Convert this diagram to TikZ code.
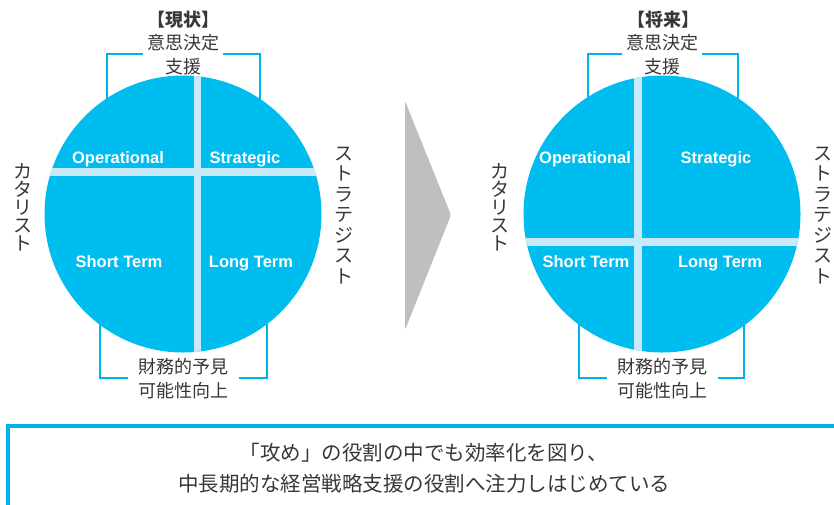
\documentclass[tikz,border=0pt]{standalone}
\usepackage{fontspec}
\setmainfont{Liberation Sans}
\newfontfamily\jp{Noto Sans CJK JP}
\definecolor{circc}{RGB}{0,189,240}
\definecolor{barc}{RGB}{200,233,248}
\definecolor{linec}{RGB}{0,178,236}
\definecolor{txtg}{RGB}{55,55,55}
\definecolor{arrg}{RGB}{190,191,193}
\begin{document}
\begin{tikzpicture}[x=1pt,y=-1pt,
  jptext/.style={font=\jp\fontsize{18}{24}\selectfont, text=txtg, align=center, inner sep=0},
  jphead/.style={font=\jp\bfseries\fontsize{18}{18}\selectfont, text=txtg, inner sep=0},
  vleft/.style={font=\jp\fontsize{19}{18}\selectfont, text=txtg, align=center, inner sep=0},
  vright/.style={font=\jp\fontsize{19}{20.5}\selectfont, text=txtg, align=center, inner sep=0},
  quad/.style={font=\bfseries\fontsize{16.5}{16.5}\selectfont, text=white, inner sep=0, text height=11.8, text depth=0},
  bracket/.style={draw=linec, line width=2.2},
  disc/.style={circle, fill=circc, minimum size=277, inner sep=0},
  barfill/.style={fill=barc}]
\useasboundingbox (0,0) rectangle (834,504);

% ---------- left: current ----------
\coordinate (L1) at (107,105);
\coordinate (L2) at (260,105);
\coordinate (L3) at (100,318);
\coordinate (L4) at (267,318);
\draw[bracket] (L1) -- (107,54) -- (143,54);
\draw[bracket] (223,54) -- (260,54) -- (L2);
\draw[bracket] (L3) -- (100,378) -- (128,378);
\draw[bracket] (239,378) -- (267,378) -- (L4);
\node[disc] (c1) at (183,214) {};
\begin{scope}
  \clip (c1.center) circle (138.5);
  \fill[barfill] (194,70) rectangle (201,360);
  \fill[barfill] (40,168) rectangle (330,176);
\end{scope}
\node[quad] (op1) at (118,158) {Operational};
\node[quad] (st1) at (245,158) {Strategic};
\node[quad] (sh1) at (119,262) {Short Term};
\node[quad] (lo1) at (251,262) {Long Term};
\node[jphead] (h1) at (183,20) {【現状】};
\node[jptext] (t1) at (183,55) {意思決定\\支援};
\node[jptext] (b1) at (183,378.5) {財務的予見\\可能性向上};
\node[vleft] (v1) at (23,207.5) {カ\\タ\\リ\\ス\\ト};
\node[vright] (w1) at (344,215.5) {ス\\ト\\ラ\\テ\\ジ\\ス\\ト};

% ---------- arrow ----------
\coordinate (a1) at (405,101);
\coordinate (a2) at (451,215);
\coordinate (a3) at (405,330);
\fill[arrg, rounded corners=2] (a1) -- (a2) -- (a3) -- cycle;

% ---------- right: future ----------
\coordinate (R1) at (588,105);
\coordinate (R2) at (738,105);
\coordinate (R3) at (579,318);
\coordinate (R4) at (744,318);
\draw[bracket] (R1) -- (588,54) -- (622,54);
\draw[bracket] (702,54) -- (738,54) -- (R2);
\draw[bracket] (R3) -- (579,378) -- (607,378);
\draw[bracket] (718,378) -- (744,378) -- (R4);
\node[disc] (c2) at (662,214) {};
\begin{scope}
  \clip (c2.center) circle (138.5);
  \fill[barfill] (634,70) rectangle (642,360);
  \fill[barfill] (500,238) rectangle (820,246);
\end{scope}
\node[quad] (op2) at (585,158) {Operational};
\node[quad] (st2) at (716,158) {Strategic};
\node[quad] (sh2) at (586,262) {Short Term};
\node[quad] (lo2) at (720,262) {Long Term};
\node[jphead] (h2) at (663,20) {【将来】};
\node[jptext] (t2) at (662,55) {意思決定\\支援};
\node[jptext] (b2) at (662,378.5) {財務的予見\\可能性向上};
\node[vleft] (v2) at (500,207.5) {カ\\タ\\リ\\ス\\ト};
\node[vright] (w2) at (823,215.5) {ス\\ト\\ラ\\テ\\ジ\\ス\\ト};

% ---------- bottom message box ----------
\coordinate (m1) at (840,426);
\coordinate (m2) at (8,426);
\coordinate (m3) at (8,510);
\draw[draw=linec, line width=4] (m1) -- (m2) -- (m3);
\node[font=\jp\fontsize{20.5}{31}\selectfont, text=txtg, align=center, inner sep=0] (msg) at (424,468.5)
  {「攻め」の役割の中でも効率化を図り、\\中長期的な経営戦略支援の役割へ注力しはじめている};
\end{tikzpicture}
\end{document}
